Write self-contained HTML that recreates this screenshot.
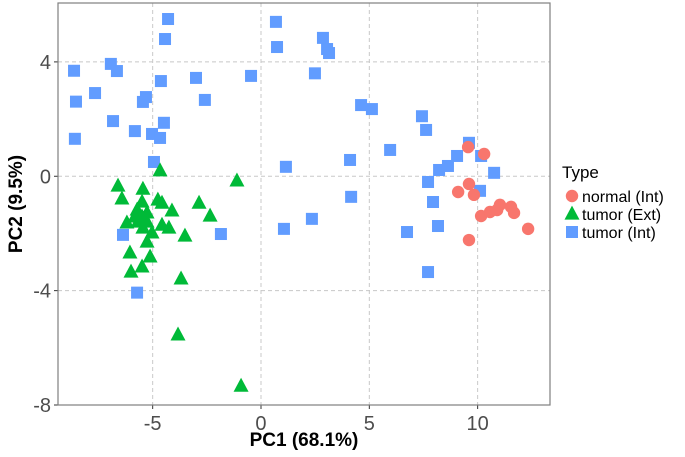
<!DOCTYPE html>
<html><head><meta charset="utf-8"><style>
body{margin:0;background:#fff;}
svg{display:block;font-family:"Liberation Sans",sans-serif;}
</style></head><body>
<svg id="chart" width="685" height="457" viewBox="0 0 685 457"></svg>
<script>
const tumorIntX=[-8.63,-8.54,-8.59,-7.66,-6.93,-6.65,-6.83,-5.82,-5.45,-5.31,-4.29,-4.43,-4.62,-5.03,-4.48,-4.94,-4.66,-3.00,-2.59,-0.46,0.69,0.74,2.86,3.05,3.14,2.49,4.62,5.12,7.43,7.62,5.96,4.11,1.15,8.22,8.63,9.05,9.60,10.16,10.76,10.11,7.71,7.94,8.17,6.74,4.16,2.35,1.06,7.71,-5.72,-1.85,-6.37];
const tumorIntY=[3.69,2.61,1.31,2.91,3.93,3.68,1.93,1.58,2.60,2.77,5.50,4.80,3.33,1.48,1.87,0.50,1.34,3.44,2.67,3.51,5.40,4.52,4.84,4.45,4.31,3.60,2.49,2.35,2.10,1.62,0.92,0.57,0.33,0.22,0.36,0.71,1.17,0.71,0.12,-0.51,-0.20,-0.90,-1.74,-1.95,-0.72,-1.49,-1.84,-3.35,-4.07,-2.02,-2.05];
const tumorExtX=[-4.66,-6.60,-5.45,-1.11,-6.42,-4.76,-4.57,-2.86,-5.49,-4.11,-2.35,-5.72,-5.26,-6.19,-5.68,-5.26,-4.57,-4.25,-5.03,-5.45,-3.51,-5.26,-6.05,-5.12,-5.49,-6.00,-3.69,-3.83,-0.92,-5.82,-5.49];
const tumorExtY=[0.19,-0.34,-0.45,-0.16,-0.79,-0.83,-0.94,-0.94,-0.90,-1.21,-1.39,-1.18,-1.28,-1.63,-1.60,-1.60,-1.71,-1.81,-1.98,-1.81,-2.09,-2.30,-2.68,-2.82,-3.17,-3.35,-3.59,-5.55,-7.34,-1.42,-1.42];
const normalX=[9.56,10.30,9.60,9.10,9.83,10.16,10.57,10.90,11.03,11.54,11.68,12.33,9.60];
const normalY=[1.02,0.78,-0.27,-0.55,-0.65,-1.39,-1.25,-1.18,-1.00,-1.07,-1.28,-1.84,-2.23];
const xTicks=[-5,0,5,10];
const yTicks=[4,0,-4,-8];

const NS="http://www.w3.org/2000/svg";
const svg=document.getElementById('chart');
const P={l:58,r:550,t:3,b:405};
const xMin=-9.37,xMax=13.34,yMin=-8.0,yMax=6.06;
const sx=v=>P.l+(v-xMin)/(xMax-xMin)*(P.r-P.l);
const sy=v=>P.b-(v-yMin)/(yMax-yMin)*(P.b-P.t);
function mk(tag,attrs,parent){const e=document.createElementNS(NS,tag);for(const k in attrs)e.setAttribute(k,attrs[k]);(parent||svg).appendChild(e);return e;}

const panel=mk('rect',{x:P.l,y:P.t,width:P.r-P.l,height:P.b-P.t,fill:'#fff'});



xTicks.forEach(t=>{
  const g=mk('line',{x1:sx(t),x2:sx(t),y1:P.t,y2:P.b,stroke:'#c8c8c8','stroke-dasharray':'4,3','stroke-width':1});
  
  
  const tk=mk('line',{x1:sx(t),x2:sx(t),y1:P.b,y2:P.b+4,stroke:'#333','stroke-width':1});
  
  
  const tx=mk('text',{x:sx(t),y:P.b+25,'text-anchor':'middle','font-size':20,fill:'#4d4d4d'});
  tx.textContent=t;
  
  
});
yTicks.forEach(t=>{
  const g=mk('line',{x1:P.l,x2:P.r,y1:sy(t),y2:sy(t),stroke:'#c8c8c8','stroke-dasharray':'4,3','stroke-width':1});
  
  
  const tk=mk('line',{x1:P.l-4,x2:P.l,y1:sy(t),y2:sy(t),stroke:'#333','stroke-width':1});
  
  
  const tx=mk('text',{x:P.l-7,y:sy(t)+7,'text-anchor':'end','font-size':20,fill:'#4d4d4d'});
  tx.textContent=t;
  
  
});

function square(x,y,c){const s=12;const e=mk('rect',{x:x-s/2,y:y-s/2,width:s,height:s,fill:c});return e;}
function tri(x,y,c){const h=14,w=15;const e=mk('polygon',{points:`${x},${y-h*0.6} ${x-w/2},${y+h*0.4} ${x+w/2},${y+h*0.4}`,fill:c});return e;}
function circ(x,y,c){return mk('circle',{cx:x,cy:y,r:6.2,fill:c});}

tumorIntX.forEach((v,i)=>{
  const e=square(sx(v),sy(tumorIntY[i]),'#619CFF');
  
  
});
tumorExtX.forEach((v,i)=>{
  const e=tri(sx(v),sy(tumorExtY[i]),'#00BA38');
  
  
});
normalX.forEach((v,i)=>{
  const e=circ(sx(v),sy(normalY[i]),'#F8766D');
  
  
});

const border=mk('rect',{x:P.l,y:P.t,width:P.r-P.l,height:P.b-P.t,fill:'none',stroke:'#7f7f7f','stroke-width':1.2});



const xt=mk('text',{x:(P.l+P.r)/2,y:446,'text-anchor':'middle','font-size':19,'font-weight':'bold',fill:'#000'});
xt.textContent='PC1 (68.1%)';


const yt=mk('text',{x:0,y:0,'text-anchor':'middle','font-size':19,'font-weight':'bold',fill:'#000',transform:`translate(22,${(P.t+P.b)/2}) rotate(-90)`});
yt.textContent='PC2 (9.5%)';



const lt=mk('text',{x:562,y:178,'font-size':17,fill:'#000'});
lt.textContent='Type';


const entries=[['normal (Int)',circ,'#F8766D',196],['tumor (Ext)',tri,'#00BA38',214],['tumor (Int)',square,'#619CFF',232]];
entries.forEach(en=>{
  const m=en[1](572,en[3],en[2]);
  
  
  const t=mk('text',{x:582,y:en[3]+6,'font-size':16,fill:'#000'});
  t.textContent=en[0];
  
  
});
</script>
</body></html>
